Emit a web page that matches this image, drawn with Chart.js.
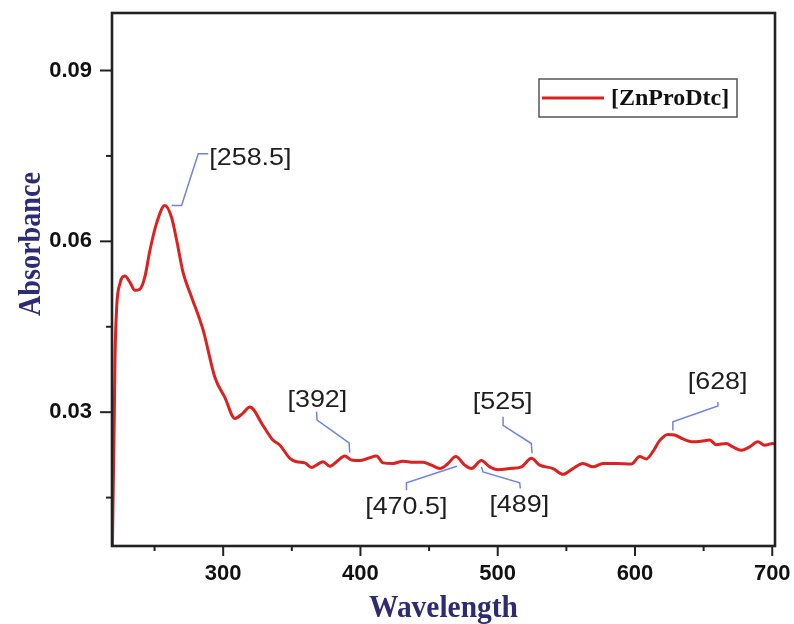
<!DOCTYPE html>
<html>
<head>
<meta charset="utf-8">
<script src="https://cdn.jsdelivr.net/npm/chart.js@4.4.1/dist/chart.umd.min.js"></script>
<style>
  html, body { margin: 0; padding: 0; background: #fff; }
  canvas { display: block; }
</style>
</head>
<body>
<canvas id="spectrum" width="794" height="624"></canvas>
<script>
// values
const wavelengths = [
  219.3, 220.6, 221.2, 222.4, 224.8, 228.4, 232.1, 235.7, 239.3, 242.9,
  246.6, 251.5, 257.5, 262.4, 266.1, 270.9, 277.0, 285.4, 294.0, 301.2,
  308.5, 314.3, 319.4, 328.9, 336.2, 341.3, 348.6, 353.4, 359.5, 364.4,
  372.8, 377.7, 382.6, 388.6, 393.5, 399.5, 405.6, 411.7, 416.5, 423.8,
  431.1, 438.3, 445.6, 451.7, 457.8, 463.8, 469.4, 476.0, 480.9, 488.1,
  494.2, 500.2, 508.7, 517.3, 524.5, 530.6, 540.3, 547.5, 554.8, 562.1,
  569.4, 576.7, 586.4, 597.3, 603.4, 608.3, 613.1, 617.9, 624.0, 628.9,
  634.9, 642.2, 648.3, 654.4, 659.2, 666.5, 671.3, 677.4, 683.5, 689.5,
  694.4, 700.4, 702.0
];
const absorbance = [
  0.0066, 0.0281, 0.0396, 0.0484, 0.0526, 0.0539, 0.0528, 0.0514, 0.0516, 0.0537,
  0.0584, 0.0632, 0.0663, 0.0642, 0.0602, 0.0544, 0.0502, 0.0444, 0.0361, 0.0326,
  0.0289, 0.0298, 0.0309, 0.0277, 0.0251, 0.0242, 0.0219, 0.0213, 0.0211, 0.0203,
  0.0213, 0.0205, 0.0213, 0.0223, 0.0216, 0.0215, 0.0219, 0.0223, 0.0211, 0.0210,
  0.0214, 0.0212, 0.0212, 0.0207, 0.0201, 0.0210, 0.0222, 0.0207, 0.0201, 0.0215,
  0.0204, 0.0199, 0.0201, 0.0204, 0.0219, 0.0207, 0.0201, 0.0191, 0.0201, 0.0210,
  0.0204, 0.0210, 0.0210, 0.0209, 0.0222, 0.0218, 0.0231, 0.0250, 0.0261, 0.0260,
  0.0253, 0.0248, 0.0249, 0.0251, 0.0243, 0.0245, 0.0239, 0.0233, 0.0239, 0.0248,
  0.0242, 0.0245, 0.0244
];
const seriesName = '[ZnProDtc]';
const xTickLabels = ['300', '400', '500', '600', '700'];
const yTickLabels = ['0.03', '0.06', '0.09'];
const peakLabels = ['[258.5]', '[392]', '[470.5]', '[489]', '[525]', '[628]'];

// where each peak label sits and the leader line to the curve (data units)
const peakNotes = [
  { text: [319.8, 0.0746], leader: [[262.4, 0.0663], [269.7, 0.0663], [281.8, 0.0754], [289.1, 0.0754]] },
  { text: [368.6, 0.0321], leader: [[368.0, 0.0301], [368.4, 0.0286], [391.7, 0.0246], [392.2, 0.0229]] },
  { text: [433.4, 0.0132], leader: [[433.5, 0.0163], [433.5, 0.0176], [470.2, 0.0205]] },
  { text: [515.7, 0.0137], leader: [[488.1, 0.0204], [489.3, 0.0195], [516.0, 0.0176], [516.5, 0.0166]] },
  { text: [503.6, 0.0317], leader: [[503.9, 0.0292], [503.9, 0.0277], [524.5, 0.0245], [525.0, 0.0228]] },
  { text: [660.2, 0.0352], leader: [[660.4, 0.0318], [660.4, 0.0311], [627.6, 0.0283], [627.6, 0.0268]] }
];

const lineColor = '#dc2121';
const titleColor = '#2c2b73';

const sameNumber = (v, labels) => labels.some(l => Math.abs(Number(l) - v) < 1e-6);

// frame, tick marks, axis titles, peak notes and the boxed legend
const decorations = {
  id: 'decorations',
  afterDraw(chart) {
    const { ctx, chartArea: a, scales } = chart;
    const xs = scales.x, ys = scales.y;
    ctx.save();

    // ticks, long for labelled ones
    ctx.strokeStyle = '#222';
    ctx.lineWidth = 2;
    xs.ticks.forEach(t => {
      const px = xs.getPixelForValue(t.value);
      const len = t.label ? 10 : 5;
      ctx.beginPath();
      ctx.moveTo(px, a.bottom);
      ctx.lineTo(px, a.bottom + len);
      ctx.stroke();
    });
    ys.ticks.forEach(t => {
      const py = ys.getPixelForValue(t.value);
      const len = t.label ? 12 : 6;
      ctx.beginPath();
      ctx.moveTo(a.left, py);
      ctx.lineTo(a.left - len, py);
      ctx.stroke();
    });

    // plot frame
    ctx.lineWidth = 2.6;
    ctx.strokeRect(a.left, a.top, a.right - a.left, a.bottom - a.top);

    // axis titles
    ctx.fillStyle = titleColor;
    ctx.font = 'bold 32px "Liberation Serif", "Times New Roman", serif';
    ctx.textAlign = 'center';
    ctx.textBaseline = 'alphabetic';
    ctx.save();
    ctx.translate((a.left + a.right) / 2, 617);
    ctx.scale(0.92, 1);
    ctx.fillText('Wavelength', 0, 0);
    ctx.restore();

    ctx.save();
    ctx.translate(40, 244);
    ctx.rotate(-Math.PI / 2);
    ctx.scale(0.88, 1);
    ctx.fillText('Absorbance', 0, 0);
    ctx.restore();

    // peak notes
    ctx.strokeStyle = '#6e84e4';
    ctx.lineWidth = 1.5;
    peakNotes.forEach((n, i) => {
      ctx.beginPath();
      n.leader.forEach(([wx, wy], k) => {
        const px = xs.getPixelForValue(wx), py = ys.getPixelForValue(wy);
        if (k === 0) ctx.moveTo(px, py); else ctx.lineTo(px, py);
      });
      ctx.stroke();

      ctx.save();
      ctx.translate(xs.getPixelForValue(n.text[0]), ys.getPixelForValue(n.text[1]));
      ctx.scale(1.12, 1);
      ctx.fillStyle = '#1e1e1e';
      ctx.font = '24px "Liberation Sans", Arial, sans-serif';
      ctx.textAlign = 'center';
      ctx.textBaseline = 'middle';
      ctx.fillText(peakLabels[i], 0, 0);
      ctx.restore();
    });

    // legend box in the upper right of the plot
    const bx = a.right - 236, by = a.top + 66, bw = 198, bh = 38;
    ctx.strokeStyle = '#555';
    ctx.lineWidth = 1.5;
    ctx.strokeRect(bx, by, bw, bh);
    const ds = chart.data.datasets[0];
    ctx.strokeStyle = ds.borderColor;
    ctx.lineWidth = 3;
    ctx.beginPath();
    ctx.moveTo(bx + 3, by + bh / 2);
    ctx.lineTo(bx + 65, by + bh / 2);
    ctx.stroke();
    ctx.fillStyle = '#111';
    ctx.font = 'bold 24px "Liberation Serif", "Times New Roman", serif';
    ctx.textAlign = 'left';
    ctx.textBaseline = 'middle';
    ctx.fillText(ds.label, bx + 72, by + bh / 2 + 1);

    ctx.restore();
  }
};

const tickFont = { family: '"Liberation Sans", Arial, sans-serif', size: 22, weight: 'bold' };

new Chart(document.getElementById('spectrum'), {
  type: 'line',
  data: {
    datasets: [{
      label: seriesName,
      data: wavelengths.map((w, i) => ({ x: w, y: absorbance[i] })),
      borderColor: lineColor,
      borderWidth: 3,
      pointRadius: 0,
      cubicInterpolationMode: 'monotone',
      fill: false
    }]
  },
  options: {
    responsive: false,
    animation: false,
    layout: { padding: { top: 13, right: 19, left: 0, bottom: 0 } },
    plugins: { legend: { display: false }, tooltip: { enabled: false } },
    scales: {
      x: {
        type: 'linear',
        min: 219,
        max: 702,
        afterFit(s) {
          s.height = 78;
          s.paddingLeft = 0;
          s.paddingRight = 0;
        },
        border: { display: false },
        grid: { drawOnChartArea: false, tickLength: 10, tickColor: 'rgba(0,0,0,0)' },
        ticks: {
          stepSize: 50,
          includeBounds: false,
          autoSkip: false,
          maxRotation: 0,
          padding: 5,
          color: '#111',
          font: tickFont,
          callback: v => sameNumber(v, xTickLabels) ? String(Math.round(v)) : ''
        }
      },
      y: {
        type: 'linear',
        min: 0.0065,
        max: 0.1001,
        afterFit(s) {
          s.width = 112;
          s.paddingTop = 0;
          s.paddingBottom = 0;
        },
        border: { display: false },
        grid: { drawOnChartArea: false, tickLength: 12, tickColor: 'rgba(0,0,0,0)' },
        ticks: {
          stepSize: 0.015,
          includeBounds: false,
          autoSkip: false,
          padding: 8,
          color: '#111',
          font: tickFont,
          callback: v => sameNumber(v, yTickLabels) ? v.toFixed(2) : ''
        }
      }
    }
  },
  plugins: [decorations]
});
</script>
</body>
</html>
